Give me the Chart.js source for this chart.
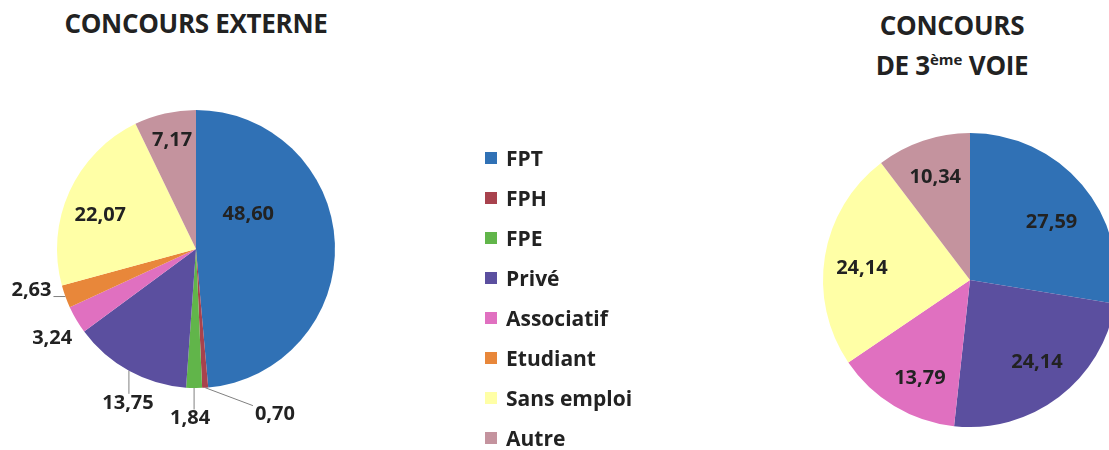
<!DOCTYPE html>
<html>
<head>
<meta charset="utf-8">
<script src="https://cdn.jsdelivr.net/npm/chart.js@4"></script>
<style>
  body { margin: 0; width: 1109px; height: 450px; overflow: hidden; background: #fff; position: relative; font-family: "Open Sans", sans-serif; color: #222; }
  .title { position: absolute; font-weight: bold; font-size: 26px; line-height: 40px; text-align: center; width: 340px; letter-spacing: -0.3px; }
  .title sup { font-size: 15px; vertical-align: 10px; line-height: 0; letter-spacing: 0; }
  #left-title { left: 26px; top: 3px; }
  #right-title { left: 782px; top: 5px; }
  canvas { position: absolute; top: 0; }
  #left-pie { left: 0; }
  #right-pie { left: 700px; }
  #legend { position: absolute; left: 485px; top: 138px; }
  .item { height: 40px; display: flex; align-items: center; font-weight: bold; font-size: 21px; }
  .box { width: 12px; height: 12px; margin-right: 9px; }
</style>
</head>
<body>
<div class="title" id="left-title">CONCOURS EXTERNE</div>
<div class="title" id="right-title">CONCOURS<br>DE 3<sup>ème</sup> VOIE</div>
<canvas id="left-pie" width="560" height="450"></canvas>
<canvas id="right-pie" width="430" height="450"></canvas>
<div id="legend"></div>
<script>
const categories = ['FPT', 'FPH', 'FPE', 'Privé', 'Associatif', 'Etudiant', 'Sans emploi', 'Autre']
const externeValues = [48.60, 0.70, 1.84, 13.75, 3.24, 2.63, 22.07, 7.17]
const troisiemeVoieValues = [27.59, 0, 0, 24.14, 13.79, 0, 24.14, 10.34]
const colors = ['#3071b5', '#a8424d', '#61b54a', '#5b4f9f', '#e070c0', '#e8873a', '#ffffa6', '#c4939e']

// label placement: radius factor, angle shift in degrees, leader line
const externeLabelRadius = [0.45, 1.32, 1.22, 1.21, 1.22, 1.22, 0.73, 0.80]
const externeLabelShift = [-30.7, -21.7, 1.2, -5, -1.4, 6, -5, 0.5]
const externeLeader = [false, true, true, true, false, true, false, false]
const troisiemeLabelRadius = [0.68, 1, 1, 0.72, 0.75, 1, 0.74, 0.74]
const troisiemeLabelShift = [5, 0, 0, -2, -4, 0, -3, 0]
const troisiemeLeader = [false, false, false, false, false, false, false, false]

const sliceLabels = {
  id: 'sliceLabels',
  afterDatasetsDraw(chart, args, opts) {
    const ctx = chart.ctx
    const meta = chart.getDatasetMeta(0)
    const values = chart.data.datasets[0].data
    ctx.save()
    ctx.font = 'bold 20px "Open Sans"'
    ctx.fillStyle = '#222'
    ctx.textAlign = 'center'
    ctx.textBaseline = 'middle'
    meta.data.forEach((arc, i) => {
      if (!values[i]) return
      const { x, y, startAngle, endAngle, outerRadius } = arc.getProps(['x', 'y', 'startAngle', 'endAngle', 'outerRadius'], true)
      const mid = (startAngle + endAngle) / 2
      const a = mid + opts.shift[i] * Math.PI / 180
      const lx = x + Math.cos(a) * outerRadius * opts.radius[i]
      const ly = y + Math.sin(a) * outerRadius * opts.radius[i]
      const text = values[i].toFixed(2).replace('.', ',')
      if (opts.leader[i]) {
        const w = ctx.measureText(text).width / 2 + 2
        const h = 9
        const ex = x + Math.cos(mid) * outerRadius
        const ey = y + Math.sin(mid) * outerRadius
        const tx = Math.min(Math.max(ex, lx - w), lx + w)
        const ty = Math.min(Math.max(ey, ly - h), ly + h)
        ctx.strokeStyle = '#808080'
        ctx.lineWidth = 1
        ctx.beginPath()
        ctx.moveTo(ex, ey)
        ctx.lineTo(tx, ty)
        ctx.stroke()
      }
      ctx.fillText(text, lx, ly)
    })
    ctx.restore()
  }
}

const renderPie = (canvasId, values, padding, radius, shift, leader) => {
  new Chart(document.querySelector(canvasId), {
    type: 'pie',
    data: {
      labels: categories,
      datasets: [{ data: values, backgroundColor: colors, borderWidth: 0 }]
    },
    options: {
      responsive: false,
      devicePixelRatio: 1,
      animation: false,
      layout: { padding },
      plugins: {
        legend: { display: false },
        tooltip: { enabled: false },
        sliceLabels: { radius, shift, leader }
      }
    },
    plugins: [sliceLabels]
  })
}

const renderLegend = () => {
  const legend = document.querySelector('#legend')
  categories.forEach((category, i) => {
    const item = document.createElement('div')
    item.className = 'item'
    const box = document.createElement('span')
    box.className = 'box'
    box.style.background = colors[i]
    item.appendChild(box)
    item.appendChild(document.createTextNode(category))
    legend.appendChild(item)
  })
}

renderPie('#left-pie', externeValues, { left: 57, top: 110, right: 225, bottom: 62 }, externeLabelRadius, externeLabelShift, externeLeader)
renderPie('#right-pie', troisiemeVoieValues, { left: 123, top: 133, right: 13, bottom: 23 }, troisiemeLabelRadius, troisiemeLabelShift, troisiemeLeader)
renderLegend()
</script>
</body>
</html>
